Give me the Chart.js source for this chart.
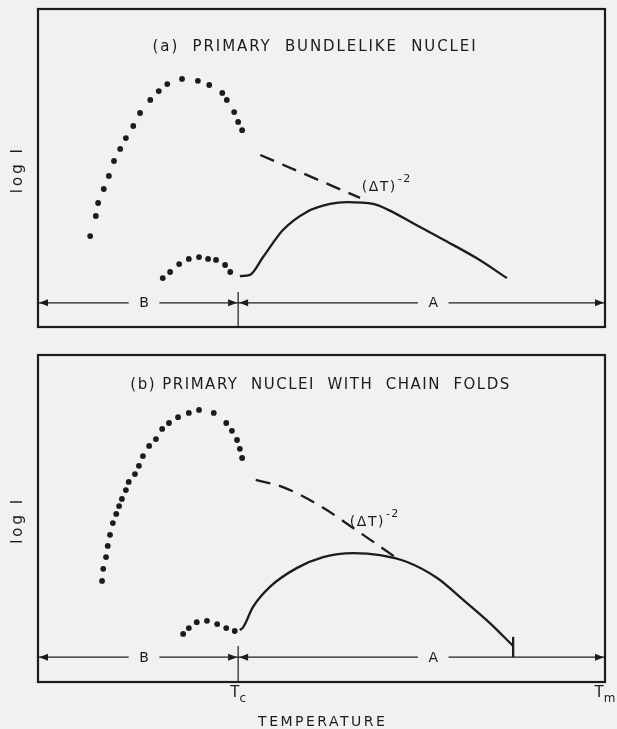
<!DOCTYPE html>
<html lang="en">
<head>
<meta charset="utf-8">
<title>Primary nucleation rate vs temperature</title>
<script src="https://cdn.jsdelivr.net/npm/chart.js@4.4.0/dist/chart.umd.min.js"></script>
<style>
  body { margin: 0; background: #f1f1f1; }
  .panel { position: absolute; left: 0; }
</style>
</head>
<body>
<div class="panel" style="top:0"><canvas id="chartA" width="617" height="340"></canvas></div>
<div class="panel" style="top:340px"><canvas id="chartB" width="617" height="389"></canvas></div>
<script>
// x = temperature (0 at left frame, 100 = Tm), y = log I in arbitrary units
var TC = 35.3, TM = 100;
var xTickValues = [TC, TM];
var xTickMain = ['T', 'T'];
var xTickSub = ['c', 'm'];

// panel (a) - bundlelike nuclei
var aUpperX = [9.2, 10.2, 10.6, 11.6, 12.5, 13.4, 14.5, 15.5, 16.8, 18.0, 19.8, 21.3, 22.8, 25.4, 28.2, 30.2, 32.5, 33.3, 34.6, 35.3, 36.0];
var aUpperY = [28.6, 34.9, 39.0, 43.4, 47.5, 52.2, 56.0, 59.4, 63.2, 67.3, 71.4, 74.2, 76.4, 78.0, 77.4, 76.1, 73.6, 71.4, 67.6, 64.5, 61.9];
var aLowerX = [22.0, 23.3, 24.9, 26.6, 28.4, 30.0, 31.4, 33.0, 33.9];
var aLowerY = [15.4, 17.3, 19.8, 21.4, 22.0, 21.4, 21.1, 19.5, 17.3];
var aSolidX = [35.6, 37.4, 39.7, 43.2, 47.4, 51.5, 54.5, 59.1, 61.6, 66.8, 72.1, 77.4, 82.7];
var aSolidY = [16.0, 16.4, 22.0, 30.5, 36.2, 38.7, 39.3, 38.7, 37.0, 32.0, 26.9, 21.6, 15.4];
var aDashX = [39.2, 56.8];
var aDashY = [54.1, 40.6];

// panel (b) - nuclei with chain folds
var bUpperX = [11.3, 11.5, 12.0, 12.3, 12.7, 13.2, 13.8, 14.3, 14.8, 15.5, 16.0, 17.1, 17.8, 18.5, 19.6, 20.8, 21.9, 23.1, 24.7, 26.6, 28.4, 31.0, 33.2, 34.2, 35.1, 35.6, 36.0];
var bUpperY = [30.9, 34.6, 38.2, 41.6, 45.0, 48.6, 51.4, 53.8, 56.0, 58.7, 61.2, 63.6, 66.1, 69.1, 72.2, 74.3, 77.4, 79.2, 81.0, 82.3, 83.2, 82.3, 79.2, 76.8, 74.0, 71.3, 68.5];
var bLowerX = [25.6, 26.6, 28.0, 29.8, 31.6, 33.2, 34.7];
var bLowerY = [14.7, 16.5, 18.3, 18.7, 17.7, 16.5, 15.6];
var bSolidX = [35.6, 36.2, 37.9, 40.9, 45.7, 50.3, 55.6, 60.3, 65.1, 70.4, 75.0, 79.7, 83.8];
var bSolidY = [15.9, 16.8, 22.9, 29.1, 34.9, 38.2, 39.4, 38.8, 36.7, 31.8, 25.1, 18.0, 11.0];
var bDashX = [38.4, 43.2, 50.0, 55.0, 63.0];
var bDashY = [61.8, 59.6, 53.6, 47.8, 38.2];
var bEndTickX = [83.8, 83.8];
var bEndTickY = [13.8, 7.6];

// range bar below curves
var rangeY = 7.6;
var regionLabels = ['B', 'A'];
var regionLabelX = [18.7, 69.7];
var regionGapHalf = 2.7;
var tcLineTop = 11.0;

var INK = '#1c1c1c';
var FONT = '"DejaVu Sans", sans-serif';

function pts(xs, ys) {
  return xs.map(function (x, i) { return { x: x, y: ys[i] }; });
}

function dots(xs, ys) {
  return { data: pts(xs, ys), showLine: false, pointRadius: 2.9, pointBackgroundColor: INK, pointBorderWidth: 0 };
}

function curve(xs, ys, dash) {
  return { data: pts(xs, ys), showLine: true, pointRadius: 0, borderColor: INK, borderWidth: 2.3,
           cubicInterpolationMode: 'monotone', borderDash: dash ? [15, 9] : [] };
}

function spacedText(ctx, text, x, y, spacing) {
  ctx.letterSpacing = spacing + 'px';
  var w = ctx.measureText(text).width - spacing;
  ctx.textAlign = 'left';
  ctx.fillText(text, x - w / 2, y);
  ctx.letterSpacing = '0px';
}

function arrowHead(ctx, x, y, dir) {
  ctx.beginPath();
  ctx.moveTo(x, y);
  ctx.lineTo(x - dir * 9, y - 3.5);
  ctx.lineTo(x - dir * 9, y + 3.5);
  ctx.closePath();
  ctx.fill();
}

var sketchPlugin = {
  id: 'sketch',
  afterDatasetsDraw: function (chart, args, o) {
    var ctx = chart.ctx, sx = chart.scales.x, sy = chart.scales.y, a = chart.chartArea;
    ctx.save();
    ctx.strokeStyle = INK;
    ctx.fillStyle = INK;

    // frame
    ctx.lineWidth = 2.2;
    ctx.strokeRect(a.left, a.top, a.right - a.left, a.bottom - a.top);

    // Tc marker
    var tx = sx.getPixelForValue(TC);
    ctx.lineWidth = 1.2;
    ctx.beginPath();
    ctx.moveTo(tx, sy.getPixelForValue(tcLineTop));
    ctx.lineTo(tx, sy.getPixelForValue(0));
    ctx.stroke();

    // range bar B | A
    var ry = sy.getPixelForValue(rangeY);
    var segs = [
      [0, regionLabelX[0] - regionGapHalf], [regionLabelX[0] + regionGapHalf, TC],
      [TC, regionLabelX[1] - regionGapHalf], [regionLabelX[1] + regionGapHalf, TM]
    ];
    segs.forEach(function (s) {
      ctx.beginPath();
      ctx.moveTo(sx.getPixelForValue(s[0]), ry);
      ctx.lineTo(sx.getPixelForValue(s[1]), ry);
      ctx.stroke();
    });
    arrowHead(ctx, sx.getPixelForValue(0) + 1, ry, -1);
    arrowHead(ctx, tx - 1, ry, 1);
    arrowHead(ctx, tx + 1, ry, -1);
    arrowHead(ctx, sx.getPixelForValue(TM) - 1, ry, 1);

    ctx.textBaseline = 'middle';
    ctx.font = '14px ' + FONT;
    regionLabels.forEach(function (t, i) {
      spacedText(ctx, t, sx.getPixelForValue(regionLabelX[i]), ry + 1, 0);
    });

    // panel title
    ctx.font = '15px ' + FONT;
    spacedText(ctx, o.title, sx.getPixelForValue(o.titleX), sy.getPixelForValue(o.titleY), o.titleSpacing);

    // (ΔT)^-2 label
    var lx = sx.getPixelForValue(o.powX), ly = sy.getPixelForValue(o.powY);
    ctx.font = '14px ' + FONT;
    ctx.textAlign = 'left';
    ctx.letterSpacing = '1.5px';
    ctx.fillText('(ΔT)', lx, ly);
    var lw = ctx.measureText('(ΔT)').width;
    ctx.font = '11px ' + FONT;
    ctx.fillText('-2', lx + lw + 1, ly - 8);
    ctx.letterSpacing = '0px';

    // y axis label
    ctx.save();
    ctx.translate(a.left - 20, sy.getPixelForValue(49));
    ctx.rotate(-Math.PI / 2);
    ctx.font = '15px ' + FONT;
    spacedText(ctx, 'log I', 0, 0, 3);
    ctx.restore();

    // x ticks and title (bottom panel only)
    if (o.showXAxis) {
      xTickValues.forEach(function (v, i) {
        var px = sx.getPixelForValue(v);
        ctx.font = '15px ' + FONT;
        var mw = ctx.measureText(xTickMain[i]).width;
        ctx.font = '12px ' + FONT;
        var sw = ctx.measureText(xTickSub[i]).width;
        var left = px - (mw + sw) / 2;
        ctx.textAlign = 'left';
        ctx.font = '15px ' + FONT;
        ctx.fillText(xTickMain[i], left, a.bottom + 11);
        ctx.font = '12px ' + FONT;
        ctx.fillText(xTickSub[i], left + mw, a.bottom + 17);
      });
      ctx.font = '14px ' + FONT;
      spacedText(ctx, 'TEMPERATURE', (a.left + a.right) / 2, a.bottom + 40, 2.5);
    }
    ctx.restore();
  }
};

function makeChart(id, datasets, padding, extra) {
  return new Chart(document.getElementById(id), {
    type: 'scatter',
    data: { datasets: datasets },
    options: {
      responsive: false,
      animation: false,
      layout: { padding: padding },
      scales: {
        x: { type: 'linear', min: 0, max: 100, display: false },
        y: { type: 'linear', min: 0, max: 100, display: false }
      },
      plugins: { legend: { display: false }, tooltip: { enabled: false }, sketch: extra }
    },
    plugins: [sketchPlugin]
  });
}

makeChart('chartA', [
  dots(aUpperX, aUpperY),
  dots(aLowerX, aLowerY),
  curve(aSolidX, aSolidY, false),
  curve(aDashX, aDashY, true)
], { left: 38, right: 12, top: 9, bottom: 13 }, {
  title: '(a)  PRIMARY  BUNDLELIKE  NUCLEI', titleX: 48.7, titleY: 88, titleSpacing: 1.9,
  powX: 57.1, powY: 44.0, showXAxis: false
});

makeChart('chartB', [
  dots(bUpperX, bUpperY),
  dots(bLowerX, bLowerY),
  curve(bSolidX, bSolidY, false),
  curve(bDashX, bDashY, true),
  curve(bEndTickX, bEndTickY, false)
], { left: 38, right: 12, top: 15, bottom: 47 }, {
  title: '(b) PRIMARY  NUCLEI  WITH  CHAIN  FOLDS', titleX: 49.7, titleY: 90.8, titleSpacing: 1.5,
  powX: 55.0, powY: 48.9, showXAxis: true
});
</script>
</body>
</html>
